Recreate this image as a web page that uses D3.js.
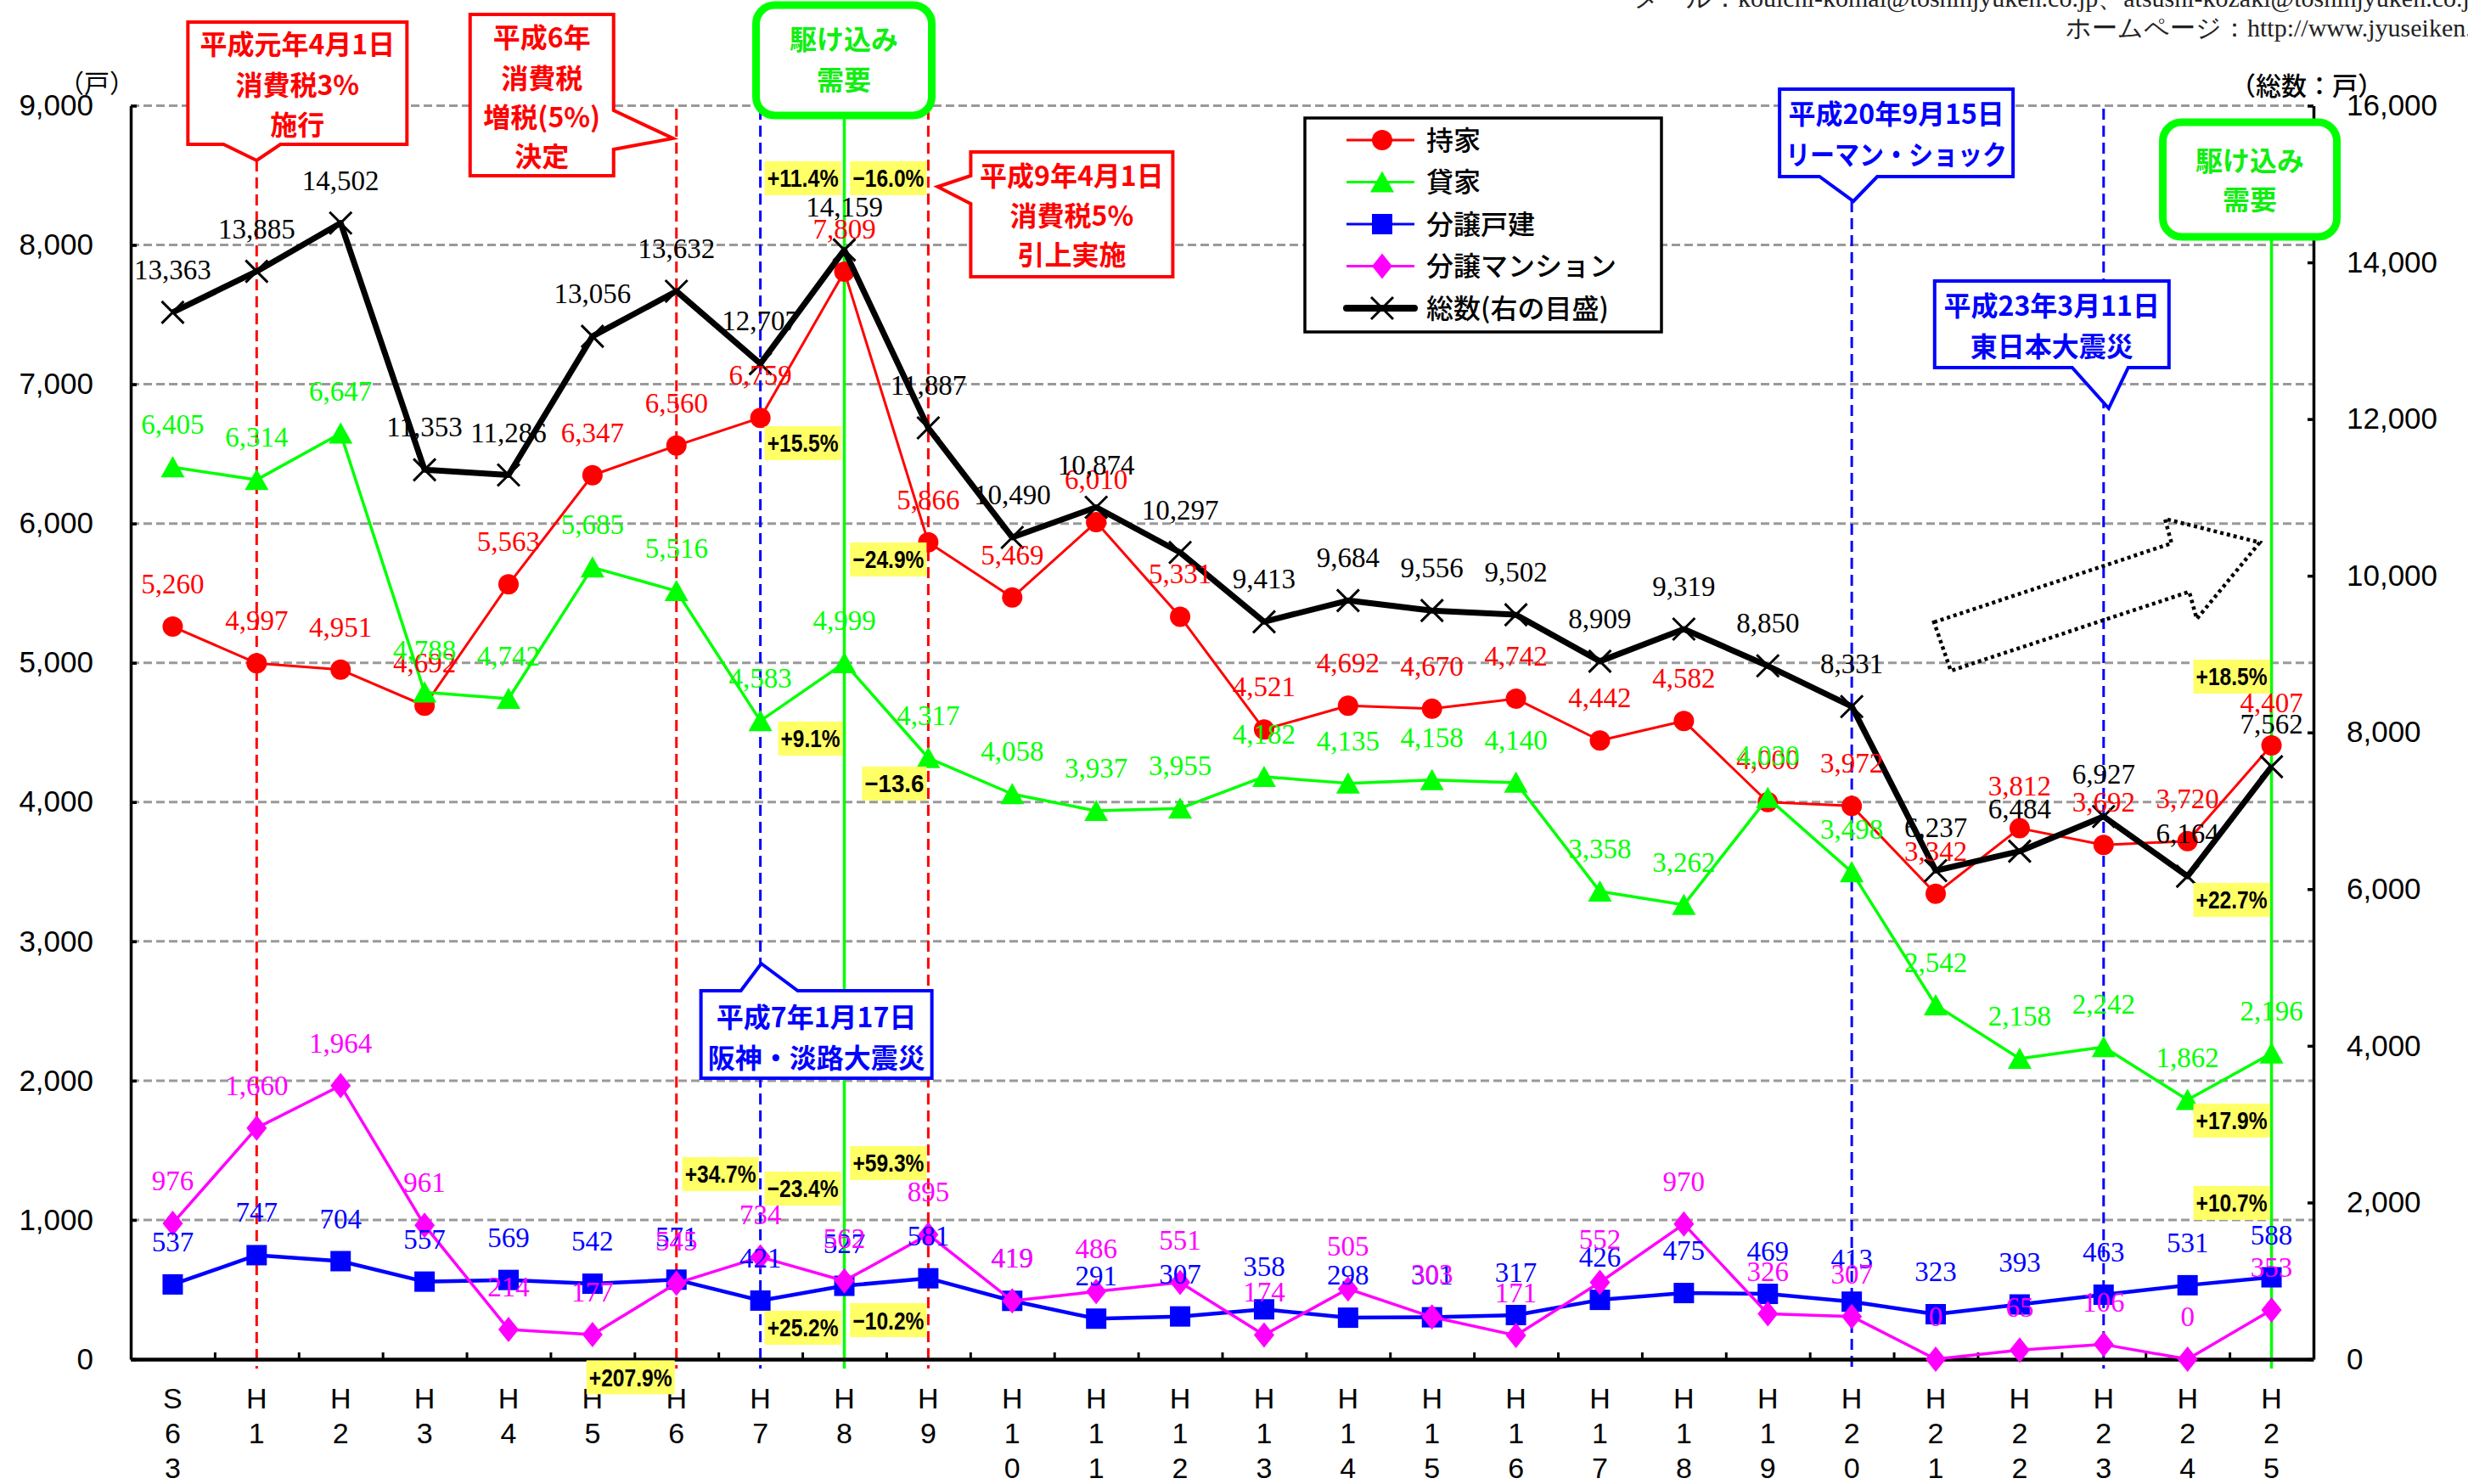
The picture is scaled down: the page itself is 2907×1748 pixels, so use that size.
<!DOCTYPE html>
<html>
<head>
<meta charset="utf-8">
<script src="https://cdn.jsdelivr.net/npm/d3@7/dist/d3.min.js"></script>
<style>
  body { margin: 0; background: #fff; }
  svg { display: block; }
</style>
</head>
<body>
<div id="chart"></div>
<script>
// ---- data ----
const categories = ["S63","H1","H2","H3","H4","H5","H6","H7","H8","H9","H10","H11","H12",
  "H13","H14","H15","H16","H17","H18","H19","H20","H21","H22","H23","H24","H25"];

const mochiie = [5260,4997,4951,4692,5563,6347,6560,6759,7809,5866,5469,6010,5331,
  4521,4692,4670,4742,4442,4582,4000,3972,3342,3812,3692,3720,4407];
const kashiya = [6405,6314,6647,4788,4742,5685,5516,4583,4999,4317,4058,3937,3955,
  4182,4135,4158,4140,3358,3262,4030,3498,2542,2158,2242,1862,2196];
const bunjoKodate = [537,747,704,557,569,542,571,421,527,581,419,291,307,
  358,298,301,317,426,475,469,413,323,393,463,531,588];
const bunjoMansion = [976,1660,1964,961,214,177,545,734,562,895,419,486,551,
  174,505,303,171,552,970,326,307,0,65,106,0,353];
const total = [13363,13885,14502,11353,11286,13056,13632,12707,14159,11887,10490,10874,10297,
  9413,9684,9556,9502,8909,9319,8850,8331,6237,6484,6927,6164,7562];

const leftTicks = [0,1000,2000,3000,4000,5000,6000,7000,8000,9000];
const rightTicks = [0,2000,4000,6000,8000,10000,12000,14000,16000];

const seriesNames = ["持家","貸家","分譲戸建","分譲マンション","総数(右の目盛)"];

// change-rate tags: [category, value on left axis, text, side]
const rateTags = [
  ["H7", 8479, "+11.4%", "left"],
  ["H9", 8479, "−16.0%", "right"],
  ["H7", 6577, "+15.5%", "left"],
  ["H8", 4456, "+9.1%", "right"],
  ["H9", 5742, "−24.9%", "right"],
  ["H9", 4133, "−13.6", "right"],
  ["H7", 1329, "+34.7%", "right"],
  ["H7", 1225, "−23.4%", "left"],
  ["H9", 1408, "+59.3%", "right"],
  ["H7", 226, "+25.2%", "left"],
  ["H9", 280, "−10.2%", "right"],
  ["H6", -130, "+207.9%", "right"],
  ["H25", 4901, "+18.5%", "right"],
  ["H25", 3298, "+22.7%", "right"],
  ["H25", 1713, "+17.9%", "right"],
  ["H25", 1122, "+10.7%", "right"]
];

// ---- setup ----
const W = 2907, H = 1748;
const svg = d3.select("#chart").append("svg").attr("width", W).attr("height", H);
svg.append("rect").attr("width", W).attr("height", H).attr("fill", "#fff");

const plot = { left: 154, right: 2725, top: 124.5, bottom: 1601 };
const x = d3.scaleBand().domain(categories).range([plot.left, plot.right]);
const cx = c => x(c) + x.bandwidth() / 2;
const xi = d3.scaleLinear().domain([-0.5, categories.length - 0.5]).range([plot.left, plot.right]);
const yL = d3.scaleLinear().domain([0, 9000]).range([plot.bottom, plot.top]);
const yR = d3.scaleLinear().domain([0, 16000]).range([plot.bottom, plot.top]);

const RED = "#ff0000", GREEN = "#00ff00", BLUE = "#0000ff", MAGENTA = "#ff00ff", BLACK = "#000";
const JP = "'Noto Sans CJK JP', 'Liberation Sans', sans-serif";
const SERIF = "'Liberation Serif', 'DejaVu Serif', serif";
const SANS = "'Liberation Sans', Arial, sans-serif";

// header text (cut by the page edges, as in the source)
svg.append("text").attr("x", 1925).attr("y", 8)
  .attr("font-family", SERIF).attr("font-size", 30).attr("fill", "#222")
  .text("メール：kouichi-komai@toshinjyuken.co.jp、atsushi-kozaki@toshinjyuken.co.jp");
svg.append("text").attr("x", 2433).attr("y", 43)
  .attr("font-family", SERIF).attr("font-size", 30).attr("fill", "#222")
  .text("ホームページ：http://www.jyuseiken.co.jp/");

// gridlines
svg.append("g").selectAll("line").data(leftTicks.filter(d => d > 0)).join("line")
  .attr("x1", plot.left).attr("x2", plot.right)
  .attr("y1", d => yL(d)).attr("y2", d => yL(d))
  .attr("stroke", "#999").attr("stroke-width", 3).attr("stroke-dasharray", "10 5");

// event lines
const eventLines = [
  { cat: "H1", color: RED, dash: true, top: 189 },
  { cat: "H6", color: RED, dash: true, top: 128 },
  { cat: "H7", color: BLUE, dash: true, top: 128 },
  { cat: "H8", color: GREEN, dash: false, top: 136 },
  { cat: "H9", color: RED, dash: true, top: 128 },
  { cat: "H20", color: BLUE, dash: true, top: 237 },
  { cat: "H23", color: BLUE, dash: true, top: 128 },
  { cat: "H25", color: GREEN, dash: false, top: 279 }
];
svg.append("g").selectAll("line").data(eventLines).join("line")
  .attr("x1", d => cx(d.cat)).attr("x2", d => cx(d.cat))
  .attr("y1", d => d.top).attr("y2", 1612)
  .attr("stroke", d => d.color)
  .attr("stroke-width", d => d.dash ? 3 : 3.5)
  .attr("stroke-dasharray", d => d.dash ? "13 7" : null);

// axes
const axL = svg.append("g").attr("transform", `translate(${plot.left},0)`)
  .call(d3.axisLeft(yL).tickValues(leftTicks).tickSize(-7).tickSizeOuter(0)
    .tickPadding(44).tickFormat(d3.format(",")));
const axR = svg.append("g").attr("transform", `translate(${plot.right},0)`)
  .call(d3.axisRight(yR).tickValues(rightTicks).tickSize(-7).tickSizeOuter(0)
    .tickPadding(39).tickFormat(d3.format(",")));
[axL, axR].forEach(ax => {
  ax.select(".domain").attr("stroke-width", 3.5);
  ax.selectAll(".tick line").attr("stroke-width", 3.5);
  ax.selectAll(".tick text").attr("font-family", SANS).attr("font-size", 35).attr("fill", "#000");
});
axR.selectAll(".tick text").attr("text-anchor", "start");

const axB = svg.append("g").attr("transform", `translate(0,${plot.bottom})`)
  .call(d3.axisBottom(xi).tickValues(d3.range(0.5, categories.length - 1, 1))
    .tickSize(-8).tickSizeOuter(0).tickFormat(""));
axB.select(".domain").attr("stroke-width", 4.5);
axB.selectAll(".tick line").attr("stroke-width", 3);

// x labels, one character per row
const xl = svg.append("g").selectAll("text").data(categories).join("text")
  .attr("font-family", SANS).attr("font-size", 34).attr("text-anchor", "middle").attr("fill", "#000");
xl.each(function (c) {
  const t = d3.select(this);
  c.split("").forEach((ch, k) => {
    t.append("tspan").attr("x", cx(c)).attr("y", 1659 + k * 41).text(ch);
  });
});

// axis titles
svg.append("text").attr("x", 114).attr("y", 98).attr("dy", "0.35em")
  .attr("text-anchor", "middle").attr("font-family", JP).attr("font-size", 30).text("（戸）");
svg.append("text").attr("x", 2717).attr("y", 101).attr("dy", "0.35em")
  .attr("text-anchor", "middle").attr("font-family", JP).attr("font-size", 30).attr("font-weight", 500)
  .text("（総数：戸）");

// ---- series ----
const markers = {
  circle: "M-12,0A12,12 0 1,0 12,0A12,12 0 1,0 -12,0Z",
  triangle: "M0,-13L14,12L-14,12Z",
  square: "M-12,-12H12V12H-12Z",
  diamond: "M0,-15L12,0L0,15L-12,0Z",
  cross: "M-13,-13L13,13M13,-13L-13,13"
};
const series = [
  { name: seriesNames[0], values: mochiie, color: RED, marker: "circle", width: 3, y: yL },
  { name: seriesNames[1], values: kashiya, color: GREEN, marker: "triangle", width: 3.5, y: yL },
  { name: seriesNames[2], values: bunjoKodate, color: BLUE, marker: "square", width: 4.5, y: yL },
  { name: seriesNames[3], values: bunjoMansion, color: MAGENTA, marker: "diamond", width: 3.5, y: yL },
  { name: seriesNames[4], values: total, color: BLACK, marker: "cross", width: 7, y: yR }
];

const gSeries = svg.append("g");
series.forEach(s => {
  const line = d3.line().x((d, i) => cx(categories[i])).y(d => s.y(d));
  const g = gSeries.append("g");
  g.append("path").datum(s.values).attr("d", line)
    .attr("fill", "none").attr("stroke", s.color).attr("stroke-width", s.width)
    .attr("stroke-linejoin", "round");
  g.selectAll("path.mk").data(s.values).join("path").attr("class", "mk")
    .attr("transform", (d, i) => `translate(${cx(categories[i])},${s.y(d)})`)
    .attr("d", markers[s.marker])
    .attr("fill", s.marker === "cross" ? "none" : s.color)
    .attr("stroke", s.marker === "cross" ? s.color : "none")
    .attr("stroke-width", 3);
});

// data labels
const gLabels = svg.append("g");
series.forEach(s => {
  gLabels.append("g").selectAll("text").data(s.values).join("text")
    .attr("x", (d, i) => cx(categories[i]))
    .attr("y", d => s.y(d) - 39)
    .attr("text-anchor", "middle")
    .attr("font-family", SERIF).attr("font-size", 33)
    .attr("fill", s.color)
    .text(d => d3.format(",")(d));
});

// rate tags
const gTags = svg.append("g");
rateTags.forEach(([cat, v, txt, side]) => {
  const w = txt.length * 14;
  const bw = w + 6;
  const x0 = side === "left" ? cx(cat) + 5 : cx(cat) - 2 - bw;
  const yc = yL(v);
  const g = gTags.append("g");
  g.append("rect").attr("x", x0).attr("y", yc - 20).attr("width", bw).attr("height", 40)
    .attr("fill", "#ffff66");
  g.append("text").attr("x", x0 + 3).attr("y", yc).attr("dy", "0.36em")
    .attr("font-family", SANS).attr("font-weight", "bold").attr("font-size", 29)
    .attr("textLength", w).attr("lengthAdjust", "spacingAndGlyphs")
    .attr("fill", "#000").text(txt);
});

// dotted arrow (trend)
const arrowPts = [[20.98,5291],[23.81,5858],[23.73,6034],[24.86,5864],[24.11,5315],[24.02,5510],[21.18,4943]];
svg.append("path")
  .attr("d", d3.line().x(d => xi(d[0])).y(d => yL(d[1])).curve(d3.curveLinearClosed)(arrowPts))
  .attr("fill", "none").attr("stroke", "#000").attr("stroke-width", 4.5)
  .attr("stroke-dasharray", "4 4");

// ---- callouts ----
function calloutPath(c) {
  const o = cx(c.cat);
  const [a0, y0, a1, y1] = c.box;
  const x0 = o + a0, x1 = o + a1;
  const p = c.ptr;
  let pts;
  if (p.side === "bottom")
    pts = [[x0,y0],[x1,y0],[x1,y1],[o+p.b,y1],[o+p.tip[0],p.tip[1]],[o+p.a,y1],[x0,y1]];
  else if (p.side === "top")
    pts = [[x0,y0],[o+p.a,y0],[o+p.tip[0],p.tip[1]],[o+p.b,y0],[x1,y0],[x1,y1],[x0,y1]];
  else if (p.side === "right")
    pts = [[x0,y0],[x1,y0],[x1,p.a],[o+p.tip[0],p.tip[1]],[x1,p.b],[x1,y1],[x0,y1]];
  else
    pts = [[x0,y0],[x1,y0],[x1,y1],[x0,y1],[x0,p.b],[o+p.tip[0],p.tip[1]],[x0,p.a]];
  return "M" + pts.map(q => q.join(",")).join("L") + "Z";
}

const callouts = [
  { cat: "H1", color: RED, box: [-81,26,177,170], ptr: { side: "bottom", a: -39, b: 28, tip: [0,189] },
    lines: ["平成元年4月1日","消費税3%","施行"], ys: [52,100,147] },
  { cat: "H6", color: RED, box: [-243,17,-74,207], ptr: { side: "right", a: 130, b: 176, tip: [-4,163] },
    lines: ["平成6年","消費税","増税(5%)","決定"], ys: [44,92,138,184] },
  { cat: "H9", color: RED, box: [50,179,288,326], ptr: { side: "left", a: 207, b: 240, tip: [11,220] },
    lines: ["平成9年4月1日","消費税5%","引上実施"], ys: [207,254,300] },
  { cat: "H20", color: BLUE, box: [-85,105,190,208], ptr: { side: "bottom", a: -38, b: 30, tip: [2,237] },
    lines: ["平成20年9月15日","リーマン・ショック"], ys: [134,182] },
  { cat: "H23", color: BLUE, box: [-199,331,77,433], ptr: { side: "bottom", a: -37, b: 29, tip: [6,481] },
    lines: ["平成23年3月11日","東日本大震災"], ys: [360,408] },
  { cat: "H7", color: BLUE, box: [-70,1167,202,1270], ptr: { side: "top", a: -23, b: 44, tip: [1,1135] },
    lines: ["平成7年1月17日","阪神・淡路大震災"], ys: [1198,1246] }
];

function fitText(sel, maxW) {
  const n = sel.node();
  if (n.getComputedTextLength() > maxW) {
    sel.attr("textLength", maxW).attr("lengthAdjust", "spacingAndGlyphs");
  }
}

const gCall = svg.append("g");
callouts.forEach(c => {
  gCall.append("path").attr("d", calloutPath(c))
    .attr("fill", "#fff").attr("stroke", c.color).attr("stroke-width", 4);
  const mid = cx(c.cat) + (c.box[0] + c.box[2]) / 2;
  const boxW = c.box[2] - c.box[0];
  c.lines.forEach((t, k) => {
    const tx = gCall.append("text").attr("x", mid).attr("y", c.ys[k]).attr("dy", "0.36em")
      .attr("text-anchor", "middle").attr("font-family", JP).attr("font-weight", "bold")
      .attr("font-size", 32).attr("fill", c.color).text(t);
    fitText(tx, boxW - 14);
  });
});

// rush-demand boxes
const rushBoxes = [
  { cat: "H8", box: [-104,6,103,136], ys: [46,94] },
  { cat: "H25", box: [-128,144,77,279], ys: [189,235] }
];
rushBoxes.forEach(r => {
  const o = cx(r.cat);
  gCall.append("rect").attr("x", o + r.box[0]).attr("y", r.box[1])
    .attr("width", r.box[2] - r.box[0]).attr("height", r.box[3] - r.box[1])
    .attr("rx", 22).attr("fill", "#fff").attr("stroke", GREEN).attr("stroke-width", 9);
  const mid = o + (r.box[0] + r.box[2]) / 2;
  ["駆け込み","需要"].forEach((t, k) => {
    gCall.append("text").attr("x", mid).attr("y", r.ys[k]).attr("dy", "0.36em")
      .attr("text-anchor", "middle").attr("font-family", JP).attr("font-weight", "bold")
      .attr("font-size", 32).attr("fill", "#11ee11").text(t);
  });
});

// ---- legend ----
const lg = svg.append("g").attr("transform", "translate(1537,139)");
lg.append("rect").attr("width", 420).attr("height", 252)
  .attr("fill", "#fff").attr("stroke", "#000").attr("stroke-width", 3.5);
series.forEach((s, k) => {
  const yy = 26 + k * 49.5;
  lg.append("line").attr("x1", 49).attr("x2", 129).attr("y1", yy).attr("y2", yy)
    .attr("stroke", s.color).attr("stroke-width", s.marker === "cross" ? 8 : 3)
    .attr("stroke-linecap", s.marker === "cross" ? "round" : "butt");
  lg.append("path").attr("transform", `translate(91,${yy})`)
    .attr("d", markers[s.marker])
    .attr("fill", s.marker === "cross" ? "none" : s.color)
    .attr("stroke", s.marker === "cross" ? s.color : "none").attr("stroke-width", 3);
  lg.append("text").attr("x", 143).attr("y", yy).attr("dy", "0.36em")
    .attr("font-family", JP).attr("font-size", 32).attr("font-weight", 500)
    .attr("fill", "#000").text(s.name);
});
</script>
</body>
</html>
